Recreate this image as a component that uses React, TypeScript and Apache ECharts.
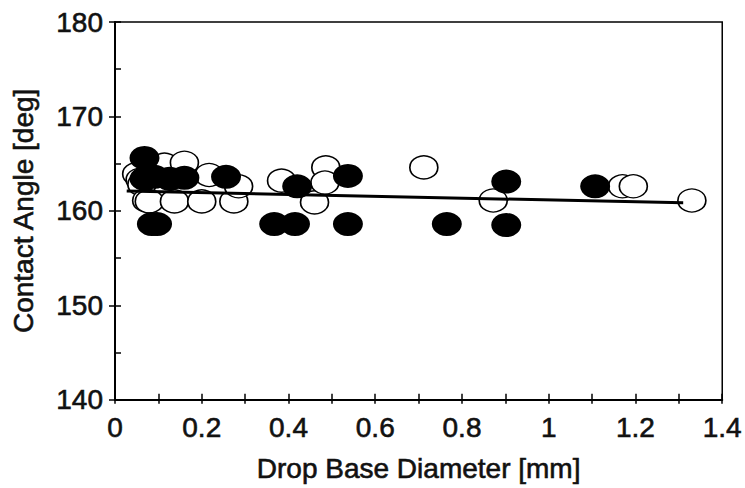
import React, { useEffect, useRef } from "react";
import * as echarts from "echarts";

// Drop base diameter [mm] vs contact angle [deg]
const openPoints: [number, number][] = [
  [0.05, 163.9],
  [0.058, 163.3],
  [0.062, 162.8],
  [0.073, 161.1],
  [0.079, 161.0],
  [0.114, 164.9],
  [0.16, 165.1],
  [0.137, 161.0],
  [0.2, 161.0],
  [0.217, 163.8],
  [0.274, 161.0],
  [0.285, 162.6],
  [0.384, 163.2],
  [0.46, 160.9],
  [0.486, 164.6],
  [0.484, 163.0],
  [0.712, 164.6],
  [0.872, 161.1],
  [1.17, 162.6],
  [1.195, 162.6],
  [1.33, 161.1],
];

const filledPoints: [number, number][] = [
  [0.068, 165.6],
  [0.068, 163.4],
  [0.091, 163.6],
  [0.126, 163.4],
  [0.16, 163.5],
  [0.256, 163.6],
  [0.42, 162.6],
  [0.085, 158.6],
  [0.097, 158.6],
  [0.367, 158.6],
  [0.415, 158.6],
  [0.537, 163.7],
  [0.537, 158.6],
  [0.765, 158.6],
  [0.902, 163.1],
  [0.902, 158.5],
  [1.107, 162.6],
];

const trendLine: [number, number][] = [
  [0.027, 162.1],
  [1.31, 160.85],
];

const X_MIN = 0;
const X_MAX = 1.4;
const X_STEP = 0.2;
const Y_MIN = 140;
const Y_MAX = 180;
const Y_STEP = 10;

const FONT = "'Liberation Sans', Arial, sans-serif";

export default function App() {
  const ref = useRef<HTMLDivElement>(null);
  useEffect(() => {
    const chart = echarts.init(ref.current!, null, { renderer: "svg" });
    const black = "#000";
    const textStyle = {
      fontSize: 28,
      color: "#111",
      fontFamily: FONT,
      textBorderColor: "#111",
      textBorderWidth: 0.6,
    };
    chart.setOption({
      animation: false,
      backgroundColor: "#fff",
      grid: {
        left: 115,
        right: 17,
        top: 22,
        bottom: 86,
        show: true,
        borderColor: black,
        borderWidth: 1.5,
        backgroundColor: "transparent",
      },
      xAxis: [
        {
          type: "value",
          min: X_MIN,
          max: X_MAX,
          interval: X_STEP,
          axisLine: { show: true, onZero: false, lineStyle: { color: black, width: 2 } },
          axisTick: { show: true, inside: true, length: 6, lineStyle: { color: black, width: 1.5 } },
          minorTick: { show: true, splitNumber: 2, length: 6, lineStyle: { color: black, width: 1.5 } },
          splitLine: { show: false },
          axisLabel: { ...textStyle, margin: 14 },
          name: "Drop Base Diameter [mm]",
          nameLocation: "middle",
          nameGap: 55,
          nameTextStyle: textStyle,
        },
        {
          type: "value",
          min: X_MIN,
          max: X_MAX,
          interval: 0.1,
          position: "bottom",
          axisLine: { show: false },
          axisTick: { show: true, inside: false, length: 4, lineStyle: { color: black, width: 1.5 } },
          axisLabel: { show: false },
          splitLine: { show: false },
        },
      ],
      yAxis: [
        {
          type: "value",
          min: Y_MIN,
          max: Y_MAX,
          interval: Y_STEP,
          axisLine: { show: true, onZero: false, lineStyle: { color: black, width: 2 } },
          axisTick: { show: true, inside: true, length: 6, lineStyle: { color: black, width: 1.5 } },
          minorTick: { show: true, splitNumber: 2, length: 6, lineStyle: { color: black, width: 1.5 } },
          splitLine: { show: false },
          axisLabel: { ...textStyle, margin: 12 },
          name: "Contact Angle [deg]",
          nameLocation: "middle",
          nameGap: 78,
          nameRotate: 90,
          nameTextStyle: textStyle,
        },
        {
          type: "value",
          min: Y_MIN,
          max: Y_MAX,
          interval: Y_STEP,
          position: "left",
          axisLine: { show: false },
          axisTick: { show: true, inside: false, length: 6, lineStyle: { color: black, width: 1.5 } },
          axisLabel: { show: false },
          splitLine: { show: false },
        },
      ],
      series: [
        {
          type: "scatter",
          data: openPoints,
          symbol: "circle",
          symbolSize: [28, 23],
          itemStyle: { color: "#fff", borderColor: black, borderWidth: 1.5, opacity: 1 },
          emphasis: { disabled: true },
          silent: true,
          z: 2,
        },
        {
          type: "line",
          data: trendLine,
          symbol: "none",
          lineStyle: { color: black, width: 3 },
          emphasis: { disabled: true },
          silent: true,
          z: 3,
        },
        {
          type: "scatter",
          data: filledPoints,
          symbol: "circle",
          symbolSize: [30, 24],
          itemStyle: { color: black, borderColor: black, borderWidth: 0, opacity: 1 },
          emphasis: { disabled: true },
          silent: true,
          z: 4,
        },
      ],
    });
    return () => chart.dispose();
  }, []);
  return (
    <div
      ref={ref}
      style={{ position: "fixed", left: 0, top: 0, width: 745, height: 488, background: "#fff" }}
    />
  );
}
